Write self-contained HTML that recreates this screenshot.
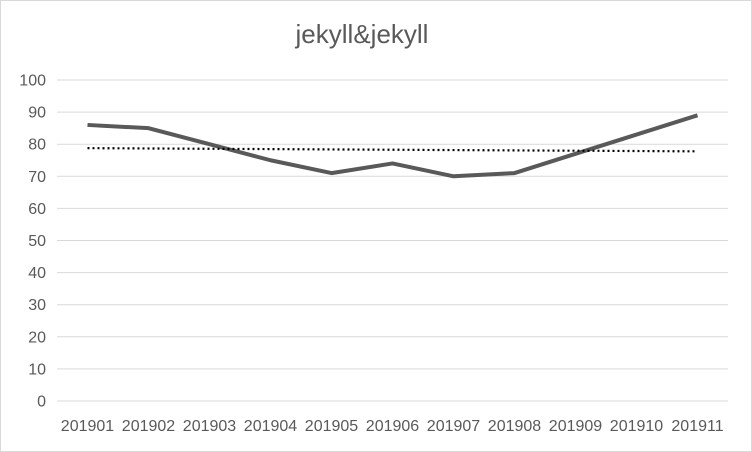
<!DOCTYPE html>
<html><head><meta charset="utf-8"><style>
body{margin:0;background:#fff;}
svg{display:block;font-family:"Liberation Sans",sans-serif;}
</style></head><body>
<svg id="chart" width="752" height="452" viewBox="0 0 752 452">
<rect x="0.5" y="0.5" width="751" height="451" fill="#fff" stroke="#d9d9d9"/>
<text x="362" y="43" text-anchor="middle" font-size="26" fill="#595959">jekyll&amp;jekyll</text>
<g id="grid"></g><g id="yl"></g><g id="xl"></g><g id="series"></g>
</svg>
<script>
const categories=["201901","201902","201903","201904","201905","201906","201907","201908","201909","201910","201911"];
const values=[86,85,80,75,71,74,70,71,77,83,89];
const yTicks=[0,10,20,30,40,50,60,70,80,90,100];
const NS="http://www.w3.org/2000/svg";
const L=57,R=728,T=80,B=401;
const x=i=>L+(R-L)/categories.length*(i+0.5);
const y=v=>B-(B-T)*v/100;
function mk(tag,attrs,parent){const e=document.createElementNS(NS,tag);for(const k in attrs)e.setAttribute(k,attrs[k]);document.getElementById(parent).appendChild(e);return e;}
yTicks.forEach(t=>{
 const g=mk('line',{x1:L,x2:R,y1:y(t),y2:y(t),stroke:'#d9d9d9','stroke-width':1},'grid');
 
 
 const tx=mk('text',{x:46,y:y(t)+5.5,'text-anchor':'end','font-size':16,fill:'#595959'},'yl');
 tx.textContent=t;
 
 
});
categories.forEach((c,i)=>{
 const tx=mk('text',{x:x(i),y:431,'text-anchor':'middle','font-size':16,fill:'#595959'},'xl');
 tx.textContent=c;
 
 
});
const pts=values.map((v,i)=>x(i)+','+y(v)).join(' ');
const pl=mk('polyline',{points:pts,fill:'none',stroke:'#595959','stroke-width':4,'stroke-linejoin':'round'},'series');


const n=values.length,mx=(n+1)/2,my=values.reduce((a,b)=>a+b,0)/n;
let sxy=0,sxx=0;values.forEach((v,i)=>{sxy+=(i+1-mx)*(v-my);sxx+=(i+1-mx)**2;});
const s=sxy/sxx,b0=my-s*mx;
const tl=mk('line',{x1:x(0),y1:y(b0+s*1),x2:x(n-1),y2:y(b0+s*n),stroke:'#000','stroke-width':2.2,'stroke-dasharray':'2 3'},'series');


</script>
</body></html>
